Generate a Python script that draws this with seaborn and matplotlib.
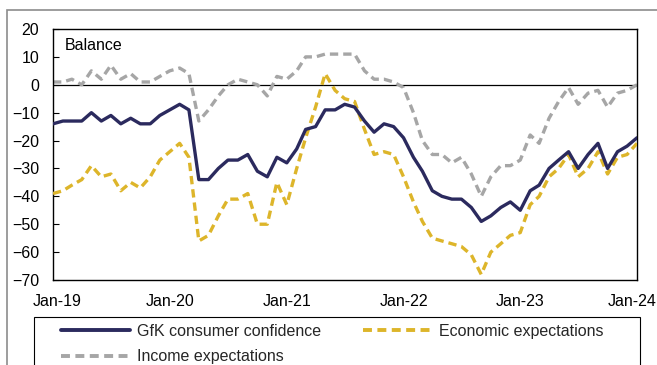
import matplotlib
matplotlib.use("Agg")
import matplotlib.pyplot as plt
import matplotlib.dates as mdates
import matplotlib.transforms as mtransforms
from matplotlib.patches import Rectangle
from matplotlib.lines import Line2D
import seaborn as sns
import pandas as pd

sns.set_theme(style="white")
plt.rcParams['font.family'] = ['Liberation Sans', 'DejaVu Sans']

# Monthly data, Jan-19 .. Jan-24
start_month = "2019-01-01"
gfk_confidence = [
    -14, -13, -13, -13, -10, -13, -11, -14, -12, -14, -14, -11,
    -9, -7, -9, -34, -34, -30, -27, -27, -25, -31, -33, -26,
    -28, -23, -16, -15, -9, -9, -7, -8, -13, -17, -14, -15,
    -19, -26, -31, -38, -40, -41, -41, -44, -49, -47, -44, -42,
    -45, -38, -36, -30, -27, -24, -30, -25, -21, -30, -24, -22,
    -19,
]
economic_expectations = [
    -39, -38, -36, -34, -29, -33, -32, -38, -35, -37, -33, -27,
    -24, -21, -26, -56, -54, -47, -41, -41, -39, -50, -50, -35,
    -43, -30, -19, -8, 4, -2, -5, -6, -16, -25, -24, -25,
    -33, -42, -49, -55, -56, -57, -58, -61, -68, -60, -57, -54,
    -53, -43, -40, -33, -30, -25, -33, -30, -24, -32, -26, -25,
    -21,
]
income_expectations = [
    1, 1, 2, 0, 5, 2, 7, 2, 4, 1, 1, 3,
    5, 6, 4, -13, -9, -4, 0, 2, 1, 0, -4, 3,
    2, 5, 10, 10, 11, 11, 11, 11, 5, 2, 2, 1,
    -1, -10, -20, -25, -25, -28, -26, -32, -40, -33, -29, -29,
    -27, -18, -21, -12, -6, -1, -7, -3, -2, -8, -3, -2,
    0,
]
series_names = ["GfK consumer confidence", "Economic expectations", "Income expectations"]
year_ticks = ["2019-01-01", "2020-01-01", "2021-01-01", "2022-01-01", "2023-01-01", "2024-01-01"]
y_ticks = [20, 10, 0, -10, -20, -30, -40, -50, -60, -70]

dates = pd.date_range(start_month, periods=len(gfk_confidence), freq="MS")

W, H = 657, 365
FS = 11.5
fig = plt.figure(figsize=(W / 100, H / 100), dpi=100)

# outer grey frame (cropped on right/bottom)
fig.patches.append(Rectangle((7 / W, -0.1), 1.2, 1 - 10 / H + 0.1, transform=fig.transFigure,
                             fill=False, edgecolor="#8c8c8c", linewidth=1.2))

ax = fig.add_axes([53 / W, 1 - 280 / H, (637 - 53) / W, (280 - 29) / H])

colors = ["#2b2a5e", "#ddb52a", "#a6a6a6"]
lw = 2.4
sns.lineplot(x=dates, y=gfk_confidence, ax=ax, color=colors[0], linewidth=lw, label=series_names[0])
sns.lineplot(x=dates, y=economic_expectations, ax=ax, color=colors[1], linewidth=lw, label=series_names[1])
sns.lineplot(x=dates, y=income_expectations, ax=ax, color=colors[2], linewidth=lw, label=series_names[2])
lines = ax.get_lines()
lines[1].set_dashes((2.5, 1.5))
lines[2].set_dashes((2.5, 1.5))
lines[2].set_zorder(2)
lines[1].set_zorder(3)
lines[0].set_zorder(4)
ax.get_legend().remove()

ax.axhline(0, color="black", linewidth=0.9, zorder=1)

ax.set_ylim(-70, 20)
ax.set_yticks(y_ticks)
ax.set_xlim(pd.Timestamp(year_ticks[0]), pd.Timestamp(year_ticks[-1]))
ax.set_xticks(pd.to_datetime(year_ticks))
ax.xaxis.set_major_formatter(mdates.DateFormatter("%b-%y"))
ax.tick_params(axis="y", direction="in", length=4, width=0.8, color="black", pad=10,
               labelsize=FS, labelcolor="black", left=True)
ax.tick_params(axis="x", length=0, pad=10, labelsize=FS, labelcolor="black")
ax.set_xlabel("")
ax.set_ylabel("")
for sp in ax.spines.values():
    sp.set_visible(True)
    sp.set_color("black")
    sp.set_linewidth(1.0)
ax.set_facecolor("white")

ax.text((65 - 53) / 584, (280 - 45) / 251, "Balance", transform=ax.transAxes,
        fontsize=FS, va="center", ha="left", color="black")

# nudge edge tick labels inward (as in the reference)
fig.canvas.draw()
xl = ax.get_xticklabels()
xl[0].set_transform(xl[0].get_transform() + mtransforms.ScaledTranslation(4 / 100, 0, fig.dpi_scale_trans))
xl[-1].set_transform(xl[-1].get_transform() + mtransforms.ScaledTranslation(-5 / 100, 0, fig.dpi_scale_trans))

# legend box
fig.patches.append(Rectangle((34 / W, -0.1), (640 - 34) / W, 0.1 + (H - 317) / H,
                             transform=fig.transFigure, fill=False, edgecolor="black", linewidth=0.8))

h = {n: Line2D([], [], color=c, linewidth=2.8) for n, c in zip(series_names, colors)}
h[series_names[1]].set_dashes((2.3, 1.4))
h[series_names[2]].set_dashes((2.3, 1.4))
common = dict(loc="upper left", frameon=False, fontsize=FS, handlelength=4.32,
              handletextpad=0.44, labelspacing=0.65, borderaxespad=0, borderpad=0)
leg1 = fig.legend([h[series_names[0]], h[series_names[2]]], [series_names[0], series_names[2]],
                  bbox_to_anchor=(61 / W, 1 - 324 / H), **common)
leg2 = fig.legend([h[series_names[1]]], [series_names[1]],
                  bbox_to_anchor=(363 / W, 1 - 324 / H), **common)

fig.savefig("out.png", dpi=100, facecolor="white")
